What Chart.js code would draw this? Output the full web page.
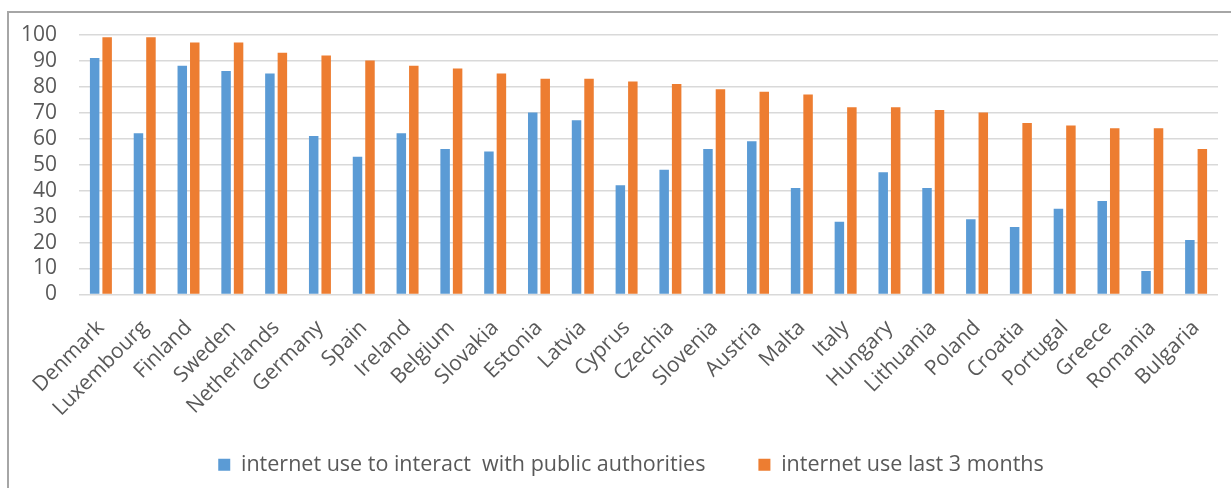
<!DOCTYPE html>
<html>
<head>
<meta charset="utf-8">
<script src="https://cdn.jsdelivr.net/npm/chart.js@4"></script>
<style>
  body { margin: 0; background: #fff; }
  #frame { position: absolute; left: 7px; top: 11px; width: 1400px; height: 600px; border: 2px solid #a6a6a6; }
  #chart { position: absolute; left: 0; top: 0; }
</style>
</head>
<body>
<div id="frame"></div>
<canvas id="chart" width="1231" height="488"></canvas>
<script>
const countries = ['Denmark', 'Luxembourg', 'Finland', 'Sweden', 'Netherlands', 'Germany', 'Spain', 'Ireland',
    'Belgium', 'Slovakia', 'Estonia', 'Latvia', 'Cyprus', 'Czechia', 'Slovenia', 'Austria', 'Malta', 'Italy',
    'Hungary', 'Lithuania', 'Poland', 'Croatia', 'Portugal', 'Greece', 'Romania', 'Bulgaria'];
const publicAuthorities = [91, 62, 88, 86, 85, 61, 53, 62, 56, 55, 70, 67, 42, 48, 56, 59, 41, 28, 47, 41, 29, 26, 33, 36, 9, 21];
const last3Months = [99, 99, 97, 97, 93, 92, 90, 88, 87, 85, 83, 83, 82, 81, 79, 78, 77, 72, 72, 71, 70, 66, 65, 64, 64, 56];
const yTicks = [0, 10, 20, 30, 40, 50, 60, 70, 80, 90, 100];

const textColor = '#595959';
const fontFamily = '"Open Sans", "Noto Sans", sans-serif';

// legend sits a bit right of centre in the original, and the long
// rotated country names run down into the legend band, so don't clip them
const layoutTweaks = {
    id: 'layoutTweaks',
    afterLayout(chart) {
        chart.legend.left += 44;
        chart.scales.x.bottom = chart.height;
    }
};

const ctx = document.getElementById('chart').getContext('2d');
new Chart(ctx, {
    type: 'bar',
    data: {
        labels: countries,
        datasets: [{
            label: 'internet use to interact  with public authorities',
            data: publicAuthorities,
            backgroundColor: '#5b9bd5'
        }, {
            label: 'internet use last 3 months',
            data: last3Months,
            backgroundColor: '#ed7d31'
        }]
    },
    options: {
        responsive: false,
        animation: false,
        layout: { padding: { left: 0, right: 13, top: 34, bottom: 2.5 } },
        datasets: { bar: { categoryPercentage: 0.57, barPercentage: 0.76 } },
        plugins: {
            tooltip: { enabled: false },
            legend: {
                position: 'bottom',
                labels: {
                    color: textColor,
                    font: { family: fontFamily, size: 21.5 },
                    boxWidth: 12,
                    boxHeight: 12,
                    padding: 53
                }
            }
        },
        scales: {
            x: {
                grid: { display: false },
                border: { display: false },
                ticks: {
                    color: textColor,
                    font: { family: fontFamily, size: 21 },
                    maxRotation: 45,
                    minRotation: 45,
                    padding: 13,
                    autoSkip: false
                },
                afterFit: s => { s.height = 106.5; }
            },
            y: {
                min: 0,
                max: 100,
                afterBuildTicks: s => { s.ticks = yTicks.map(v => ({ value: v })); },
                grid: { color: '#d9d9d9', lineWidth: 1.5, drawTicks: false },
                border: { display: false },
                ticks: {
                    color: textColor,
                    font: { family: fontFamily, size: 21 },
                    padding: 22,
                    autoSkip: false
                },
                afterFit: s => { s.width = 79; }
            }
        }
    },
    plugins: [layoutTweaks]
});
</script>
</body>
</html>
